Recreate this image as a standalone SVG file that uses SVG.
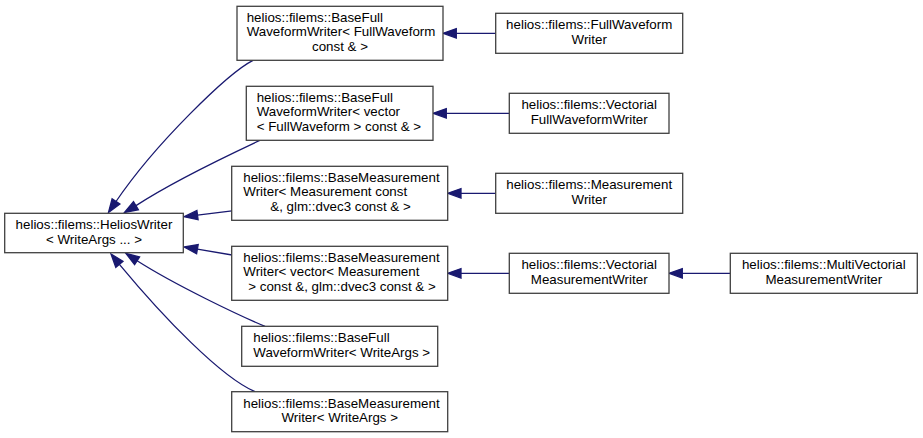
<svg xmlns="http://www.w3.org/2000/svg" width="923" height="438" viewBox="0 0 923 438">
<style>
.n rect{fill:#ffffff;stroke:#404040;stroke-width:1.3}
text{font-family:"Liberation Sans",Arial,Helvetica,sans-serif;font-size:13.33px;fill:#000000}
.c{text-anchor:middle}
.l{text-anchor:start}
.e path,.e line{fill:none;stroke:#191970;stroke-width:1.3}
.e polygon{fill:#191970;stroke:#191970;stroke-width:1.3}
</style>
<rect x="0" y="0" width="923" height="438" fill="#ffffff"/>
<g class="e" id="connectors">
  <!-- A -> Helios -->
  <path d="M253,60.3 C228,73 155,144 116,201.5"/>
  <polygon points="108.5,212.5 119.9,204.1 112.1,198.9"/>
  <!-- B -> Helios -->
  <path d="M260,140.3 C235,152 175,180 136,205.6"/>
  <polygon points="124.5,212.5 133.5,201.6 138.4,209.7"/>
  <!-- C -> Helios -->
  <line x1="232" y1="210.8" x2="197.5" y2="215.1"/>
  <polygon points="184.3,216.7 196.9,210.4 198.1,219.7"/>
  <!-- D -> Helios -->
  <line x1="232" y1="255" x2="197.4" y2="249.2"/>
  <polygon points="184.3,247 198.2,244.6 196.6,253.8"/>
  <!-- E -> Helios -->
  <path d="M265,326.3 C240,316 175,285 137.1,260.8"/>
  <polygon points="126,253.5 139.6,256.9 134.6,264.7"/>
  <!-- F -> Helios -->
  <path d="M255,391.7 C221,377 164,318 119.4,264.3"/>
  <polygon points="111,254 115.8,267.3 123,261.3"/>
  <!-- horizontal -->
  <line x1="495.7" y1="33.3" x2="456.3" y2="33.3"/>
  <polygon points="443,33.3 456.3,28.6 456.3,38"/>
  <line x1="509.3" y1="113.3" x2="446.3" y2="113.3"/>
  <polygon points="433,113.3 446.3,108.6 446.3,118"/>
  <line x1="495.7" y1="193.3" x2="461" y2="193.3"/>
  <polygon points="447.7,193.3 461,188.6 461,198"/>
  <line x1="509.3" y1="273.3" x2="461" y2="273.3"/>
  <polygon points="447.7,273.3 461,268.6 461,278"/>
  <line x1="730.3" y1="273.3" x2="682.3" y2="273.3"/>
  <polygon points="669,273.3 682.3,268.6 682.3,278"/>
</g>
<g class="n" id="node-helioswriter">
  <rect x="4.7" y="213.3" width="178.6" height="39.4"/>
  <text class="c" x="94" y="229">helios::filems::HeliosWriter</text>
  <text class="c" x="94" y="243.7">&lt; WriteArgs ... &gt;</text>
</g>
<g class="n" id="node-basefull-fw">
  <rect x="237" y="6.3" width="206" height="54"/>
  <text class="l" x="246.7" y="21.6">helios::filems::BaseFull</text>
  <text class="l" x="246.7" y="36.3">WaveformWriter&lt; FullWaveform</text>
  <text class="c" x="340" y="51">const &amp; &gt;</text>
</g>
<g class="n" id="node-basefull-vec">
  <rect x="246.3" y="86.3" width="186.7" height="54"/>
  <text class="l" x="256.7" y="101.6">helios::filems::BaseFull</text>
  <text class="l" x="256.7" y="116.3">WaveformWriter&lt; vector</text>
  <text class="l" x="256.7" y="131">&lt; FullWaveform &gt; const &amp; &gt;</text>
</g>
<g class="n" id="node-basemeas-m">
  <rect x="231.7" y="166.3" width="216" height="54"/>
  <text class="l" x="243.3" y="181.6">helios::filems::BaseMeasurement</text>
  <text class="l" x="243.3" y="196.3">Writer&lt; Measurement const</text>
  <text class="c" x="340.5" y="211">&amp;, glm::dvec3 const &amp; &gt;</text>
</g>
<g class="n" id="node-basemeas-vec">
  <rect x="231.7" y="246.3" width="216" height="54"/>
  <text class="l" x="243.3" y="261.6">helios::filems::BaseMeasurement</text>
  <text class="l" x="243.3" y="276.3">Writer&lt; vector&lt; Measurement</text>
  <text class="c" x="342" y="291">&gt; const &amp;, glm::dvec3 const &amp; &gt;</text>
</g>
<g class="n" id="node-basefull-args">
  <rect x="241.7" y="326.3" width="196" height="40"/>
  <text class="l" x="253.3" y="342.3">helios::filems::BaseFull</text>
  <text class="l" x="253.3" y="357">WaveformWriter&lt; WriteArgs &gt;</text>
</g>
<g class="n" id="node-basemeas-args">
  <rect x="231.7" y="391.7" width="216" height="40"/>
  <text class="l" x="243.3" y="407.7">helios::filems::BaseMeasurement</text>
  <text class="c" x="339.7" y="422.4">Writer&lt; WriteArgs &gt;</text>
</g>
<g class="n" id="node-fullwaveformwriter">
  <rect x="495.7" y="13.3" width="187" height="40"/>
  <text class="c" x="589.2" y="29.3">helios::filems::FullWaveform</text>
  <text class="c" x="589.2" y="44">Writer</text>
</g>
<g class="n" id="node-vectorialfullwaveformwriter">
  <rect x="509.3" y="93.3" width="159.7" height="40"/>
  <text class="c" x="589.2" y="109.3">helios::filems::Vectorial</text>
  <text class="c" x="589.2" y="124">FullWaveformWriter</text>
</g>
<g class="n" id="node-measurementwriter">
  <rect x="495.7" y="173.3" width="187" height="40"/>
  <text class="c" x="589.2" y="189.3">helios::filems::Measurement</text>
  <text class="c" x="589.2" y="204">Writer</text>
</g>
<g class="n" id="node-vectorialmeasurementwriter">
  <rect x="509.3" y="253.3" width="159.7" height="40"/>
  <text class="c" x="589.2" y="269.3">helios::filems::Vectorial</text>
  <text class="c" x="589.2" y="284">MeasurementWriter</text>
</g>
<g class="n" id="node-multivectorialmeasurementwriter">
  <rect x="730.3" y="253.3" width="187" height="40"/>
  <text class="c" x="823.8" y="269.3">helios::filems::MultiVectorial</text>
  <text class="c" x="823.8" y="284">MeasurementWriter</text>
</g>
</svg>
